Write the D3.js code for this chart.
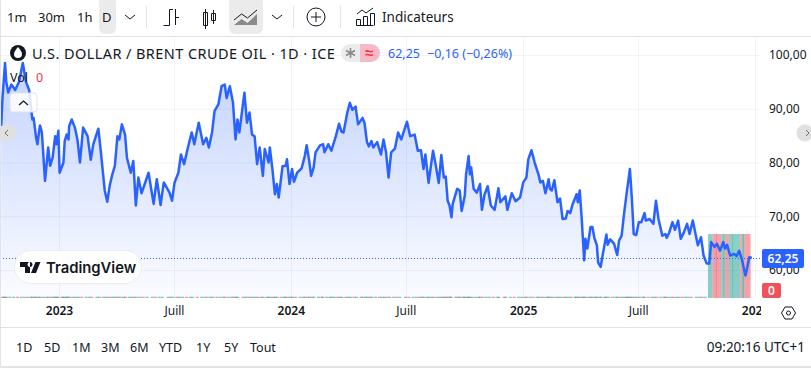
<!DOCTYPE html>
<html>
<head>
<meta charset="utf-8">
<script src="https://cdn.jsdelivr.net/npm/d3@7"></script>
<style>
  html, body { margin: 0; padding: 0; background: #fff; overflow: hidden; }
  svg { display: block; }
  text { font-family: "Noto Sans", sans-serif; fill: #131722; }
</style>
</head>
<body>
<div id="chart"></div>
<script>
// days since 2023-01-01 and the close
const days = [
  -91,-89,-85,-83,-80,-75,-69,-63,-57,-52,-47,-42,-40,-36,-34,-30,-27,-22,-17,-14,-10,-6,-4,-1,1,7,9,12,15,16,
  20,25,29,33,38,45,50,54,62,66,72,76,80,84,88,92,95,99,104,107,113,117,121,125,130,135,141,149,154,160,
  165,174,178,182,188,192,197,203,209,213,220,227,232,236,241,245,251,256,261,264,269,274,278,281,284,292,296,300,304,308,
  312,316,321,324,330,
  332,336,340,343,346,352,357,359,363,367,370,375,382,387,390,394,397,401,404,411,416,418,424,429,432,436,441,445,448,454,
  458,462,467,471,478,481,485,488,492,495,501,507,511,515,519,523,529,534,539,548,553,560,565,570,574,577,582,585,589,593,
  598,602,606,609,612,615,618,620,627,631,634,639,641,645,647,649,653,658,663,666,670,675,680,686,692,695,703,706,713,719,
  726,731,736,739,744,749,755,
  758,762,766,771,773,776,780,785,789,793,798,801,805,809,815,817,820,823,827,829,832,837,840,843,847,849,853,856,862,864,
  868,874,879,882,886,890,894,897,899,902,905,909,913,917,922,924,930,936,940,944,950,955,957,961,966,970,975,979,984,989,
  993,998,1006,1011,1015,1020,1024,1027,1032,1036,1041,1046,1049,1052,1057,1063,1067,1071,1075,1081,1084,1087,1091
];
const closes = [
  86.8,92,98.5,95,93,94.5,93.5,95,98.5,95,93.5,88,88.3,84.6,83.4,86.9,85.6,76.6,82.8,79.4,80.9,84.9,83.4,85.9,78.1,80,84,85.2,84.3,86.8,
  88,86.5,84.3,80,86.5,84.9,80.5,83.4,86.3,81.9,74.8,72.7,75.8,77.8,79.4,84.9,84.3,87.1,85.2,80.9,78.1,80.3,72,77.2,74.3,76,78.1,72.3,76.9,72.1,
  76.3,74.4,72.9,76.3,78.1,81.5,79.7,82.8,85.6,83.4,87.4,83.4,84.6,82.8,85.6,89.6,90.8,94.2,94.5,92,94.2,91.1,84.3,88,85.6,93,87.4,89.3,85.2,84.9,
  79.7,82.8,77.5,82.5,80,
  82.8,78.8,74.1,76,73.5,79.3,79.4,80.6,76,78.8,76.4,78.1,78.9,81.2,83.2,80.3,77.5,79.1,81.9,83.2,83.4,81.9,83.4,82.2,83.4,84.9,87.2,85.7,85.6,89.3,
  91.1,89.8,90.4,87.1,88.3,87.4,83.8,83,84,82.8,83.8,81.5,84.3,81.9,77.2,81.9,82.6,85.6,84.3,87.6,84.9,85.2,82.2,82.3,78.8,81.5,76.2,78.8,82.2,79.7,
  76.2,81.4,77.2,77.4,72.9,72,69.8,72.3,75.1,74.8,71,73.8,77.8,81.2,77.8,79.1,75.1,74.4,76,71.2,74,75.6,72,71.2,75.2,72.6,73.7,71.2,74.3,72.8,
  73.5,76.3,77.2,80.6,82.3,80,77.8,
  76.3,76.6,74.3,76.9,75.1,74.8,76.7,72.6,73.3,69.5,69.6,71,70.6,72.3,74.1,72.6,74.8,69.8,61.8,65.8,64,68,68,66,64.6,61.4,60.6,62.7,66.6,64.7,
  65.7,64.9,62.8,65.5,66.4,70.7,74.4,77,78.8,73.5,66.7,66.5,68.9,68.9,70.6,69.2,69.5,68.6,72.9,69.5,66.4,66.7,66,67,68.9,67.5,69.2,65.8,67,68.6,
  66.7,69.2,64.6,66.1,62.7,61.2,61.2,65.2,64.3,64.9,63.6,65.2,64,64.7,62.7,63,62.6,63.6,62.1,59,60.6,62.4,62.25
];

// recent volume blocks (start day, end day, direction)
const volStart = [1022,1029,1034,1036,1043,1046,1048,1049,1055,1060,1062,1073,1076,1079,1080];
const volEnd   = [1029,1034,1036,1043,1046,1048,1049,1055,1060,1062,1073,1076,1079,1080,1089];
const volDir   = ['up','down','down2','down','up','up2','up','down','up','up2','up','down','up2','down','down'];

const priceTicks = [60,70,80,90,100];
const timeTickDays = [0,181,365,546,731,912,1096];
const timeTickLabels = ['2023','Juill','2024','Juill','2025','Juill','2026'];
const rangeLabels = ['1D','5D','1M','3M','6M','YTD','1Y','5Y','Tout'];
const rangeLabelX = [16,44,72,101,130,159,196,224,250];
const intervalLabels = ['1m','30m','1h','D'];
const intervalLabelX = [7,38,77,102];

const W = 811, H = 368;
const paneTop = 37, paneBottom = 298, paneRight = 761;
const BLUE = '#2962ff', GRID = '#f0f3fa', BORDER = '#e0e3eb';
const day0 = new Date(Date.UTC(2023, 0, 1));
const toDate = d => d3.utcDay.offset(day0, d);
const fmtPrice = v => v.toFixed(2).replace('.', ',');

const svg = d3.select('#chart').append('svg').attr('width', W).attr('height', H);
const defs = svg.append('defs');

const x = d3.scaleUtc().domain([day0, toDate(1096)]).range([59, 755]);
const y = d3.scaleLinear().domain([54.8, 103.35]).range([paneBottom, paneTop]);
const vol = d3.scaleLinear().domain([0, 1]).range([paneBottom, 234]);

defs.append('clipPath').attr('id', 'pane').append('rect')
  .attr('x', 1).attr('y', paneTop).attr('width', paneRight - 1).attr('height', paneBottom - paneTop);
defs.append('clipPath').attr('id', 'timeClip').append('rect')
  .attr('x', 0).attr('y', paneBottom).attr('width', paneRight).attr('height', 30);
const grad = defs.append('linearGradient').attr('id', 'areaFill')
  .attr('gradientUnits', 'userSpaceOnUse').attr('x1', 0).attr('x2', 0).attr('y1', 60).attr('y2', paneBottom);
grad.append('stop').attr('offset', 0).attr('stop-color', BLUE).attr('stop-opacity', 0.28);
grad.append('stop').attr('offset', 1).attr('stop-color', BLUE).attr('stop-opacity', 0.02);

// grid
const grid = svg.append('g');
grid.selectAll('.h').data(priceTicks).join('line')
  .attr('x1', 0).attr('x2', paneRight).attr('y1', d => y(d) + 0.5).attr('y2', d => y(d) + 0.5)
  .attr('stroke', GRID);
grid.selectAll('.v').data(timeTickDays).join('line')
  .attr('x1', d => Math.round(x(toDate(d))) + 0.5).attr('x2', d => Math.round(x(toDate(d))) + 0.5)
  .attr('y1', paneTop).attr('y2', paneBottom).attr('stroke', GRID);

// series
const rows = d3.zip(days, closes);
const pane = svg.append('g').attr('clip-path', 'url(#pane)');
const colUp = 'rgba(8,153,129,0.5)', colDown = 'rgba(242,54,69,0.5)';

pane.append('path').datum(rows)
  .attr('fill', 'url(#areaFill)')
  .attr('d', d3.area().x(r => x(toDate(r[0]))).y0(paneBottom).y1(r => y(r[1])));

// near-zero volume strip under the history
pane.selectAll('.volStrip').data(rows.slice(1).filter(r => r[0] < volStart[0])).join('rect')
  .attr('x', r => x(toDate(r[0])) - 3).attr('width', 3)
  .attr('y', vol(0.02)).attr('height', vol(0) - vol(0.02))
  .attr('fill', (r, i) => i % 3 ? colUp : colDown);

// volume blocks
pane.selectAll('.vol').data(d3.zip(volStart, volEnd, volDir)).join('rect')
  .attr('x', r => x(toDate(r[0]))).attr('width', r => x(toDate(r[1])) - x(toDate(r[0])))
  .attr('y', vol(1)).attr('height', vol(0) - vol(1))
  .attr('fill', r => r[2].startsWith('up') ? colUp : colDown)
  .attr('fill-opacity', r => r[2].endsWith('2') ? 1 : 0.92);
pane.selectAll('.volDark').data(d3.zip(volStart, volEnd, volDir).filter(r => r[2].endsWith('2'))).join('rect')
  .attr('x', r => x(toDate(r[0]))).attr('width', r => x(toDate(r[1])) - x(toDate(r[0])))
  .attr('y', vol(1)).attr('height', vol(0) - vol(1))
  .attr('fill', r => r[2].startsWith('up') ? 'rgba(8,153,129,0.2)' : 'rgba(242,54,69,0.2)');

pane.append('path').datum(rows)
  .attr('fill', 'none').attr('stroke', BLUE).attr('stroke-width', 2.5).attr('stroke-linejoin', 'round')
  .attr('d', d3.line().x(r => x(toDate(r[0]))).y(r => y(r[1])));

// last price line
const lastClose = closes[closes.length - 1];
svg.append('line').attr('x1', 0).attr('x2', paneRight)
  .attr('y1', Math.round(y(lastClose)) + 0.5).attr('y2', Math.round(y(lastClose)) + 0.5)
  .attr('stroke', BLUE).attr('stroke-width', 1).attr('stroke-dasharray', '1 2');

// price axis
const yAxis = svg.append('g').attr('transform', `translate(${paneRight},0)`)
  .call(d3.axisRight(y).tickValues(priceTicks).tickFormat(fmtPrice).tickSize(0).tickPadding(8));
yAxis.select('.domain').remove();
yAxis.selectAll('text').attr('font-size', 12).style('font-family', '"Noto Sans", sans-serif').attr('fill', '#131722');

// time axis
const timeAxis = svg.append('g').attr('clip-path', 'url(#timeClip)').append('g')
  .attr('transform', `translate(0,${paneBottom})`)
  .call(d3.axisBottom(x).tickValues(timeTickDays.map(toDate))
    .tickFormat((d, i) => timeTickLabels[i]).tickSize(0).tickPadding(8));
timeAxis.select('.domain').remove();
timeAxis.selectAll('text').attr('font-size', 12).style('font-family', '"Noto Sans", sans-serif')
  .attr('fill', '#131722').attr('font-weight', (d, i) => i % 2 ? 400 : 600);

// frame lines
const frame = [[0, 36.5, W, 36.5], [0, 327.5, W, 327.5], [0.5, 0, 0.5, 366]];
svg.selectAll('.frame').data(frame).join('line')
  .attr('x1', d => d[0]).attr('y1', d => d[1]).attr('x2', d => d[2]).attr('y2', d => d[3])
  .attr('stroke', BORDER);
svg.append('rect').attr('x', 0).attr('y', 366).attr('width', W).attr('height', 2).attr('fill', '#e4e4e4');

// toolbar
const bar = svg.append('g');
bar.append('rect').attr('x', 99).attr('y', -4).attr('width', 17).attr('height', 38).attr('rx', 6).attr('fill', '#ebebeb');
bar.append('rect').attr('x', 229).attr('y', -4).attr('width', 34).attr('height', 38).attr('rx', 6).attr('fill', '#ebebeb');
bar.selectAll('.iv').data(d3.zip(intervalLabels, intervalLabelX)).join('text')
  .attr('x', d => d[1]).attr('y', 22).attr('font-size', 13).text(d => d[0]);
[146.5, 340.5, 293.5].forEach(px => bar.append('line').attr('x1', px).attr('x2', px).attr('y1', 6).attr('y2', 28).attr('stroke', BORDER));
const ink = { fill: 'none', stroke: '#131722', 'stroke-width': 1 };
const icon = d => { const p = bar.append('path').attr('d', d); Object.entries(ink).forEach(([k, v]) => p.attr(k, v)); return p; };
icon('M125 15l5 4 5-4');
icon('M272 15l5 4 5-4');
icon('M163.500 25.500h6M169.500 25.500v-16M169.500 9.500h3.500M175.500 9v16M175.500 17.500h3.500');
icon('M205.500 9v20M203.500 12.500h4v13h-4zM213.500 10v14M211.500 13.500h4v7h-4z');
bar.append('path').attr('d', 'M234 25l7.500-6 6 4 9.500-9v11z').attr('fill', '#8a8a8a');
icon('M234 20l7.500-6 6 4 9.500-8');
bar.append('circle').attr('cx', 316).attr('cy', 17).attr('r', 9).attr('fill', 'none').attr('stroke', '#131722');
icon('M311 17h10M316 12v10');
icon('M356.500 25.500h17M356.500 25.500v-6h4v6M363.500 25.500v-9h4v9M370.500 25.500v-12h4v12M357 14l5-4 4 3 7-5');
bar.append('text').attr('x', 382).attr('y', 22).attr('font-size', 13.5).text('Indicateurs');

// legend
const leg = svg.append('g');
leg.append('circle').attr('cx', 18).attr('cy', 53).attr('r', 8).attr('fill', '#131722');
leg.append('path').attr('d', 'M18 47c2.500 3 4 5 4 7a4 4 0 0 1-8 0c0-2 1.500-4 4-7z').attr('fill', '#fff');
leg.append('text').attr('x', 32).attr('y', 58.500).attr('font-size', 14.500).attr('letter-spacing', 0.42)
  .text('U.S. DOLLAR / BRENT CRUDE OIL · 1D · ICE');
leg.append('path').attr('d', 'M360 44h-10a9 9 0 0 0 0 18h10z').attr('fill', '#ebebeb');
leg.append('path').attr('d', 'M360 44h11a9 9 0 0 1 0 18h-11z').attr('fill', '#f7b9c6');
leg.append('path').attr('d', 'M350.500 48v10M346 50.500l9 5M346 55.500l9-5').attr('fill', 'none').attr('stroke', '#8a8a8a').attr('stroke-width', 1.600);
leg.append('text').attr('x', 369).attr('y', 58).attr('text-anchor', 'middle').attr('font-size', 15)
  .style('fill', '#f23645').attr('font-weight', 700).text('≈');
leg.append('text').attr('x', 388).attr('y', 58).attr('font-size', 12.500).style('fill', BLUE).text('62,25');
leg.append('text').attr('x', 427).attr('y', 58).attr('font-size', 12.500).style('fill', BLUE).text('−0,16 (−0,26%)');
leg.append('text').attr('x', 10).attr('y', 82).attr('font-size', 12.500).text('Vol');
leg.append('text').attr('x', 36).attr('y', 82).attr('font-size', 12.500).style('fill', '#f23645').text('0');
leg.append('rect').attr('x', 10).attr('y', 93).attr('width', 27).attr('height', 19).attr('rx', 3)
  .attr('fill', 'rgba(255,255,255,0.85)').attr('stroke', BORDER);
leg.append('path').attr('d', 'M19 105l4.500-4 4.500 4').attr('fill', 'none').attr('stroke', '#131722').attr('stroke-width', 1.300);

// side scroll buttons
const side = svg.append('g');
side.append('circle').attr('cx', 7).attr('cy', 133).attr('r', 9).attr('fill', '#e0e0e0');
side.append('path').attr('d', 'M8 130l-3 3 3 3').attr('fill', 'none').attr('stroke', '#6a6d78');
side.append('circle').attr('cx', 805).attr('cy', 133).attr('r', 8.500).attr('fill', '#e0e0e0');
side.append('path').attr('d', 'M806 130l3 3-3 3').attr('fill', 'none').attr('stroke', '#6a6d78');

// TradingView badge
const logo = svg.append('g');
logo.append('rect').attr('x', 14.500).attr('y', 250.500).attr('width', 127).attr('height', 33).attr('rx', 16.500)
  .attr('fill', '#fff').attr('stroke', '#ececec');
logo.append('path').attr('d', 'M20 262h10v11h-5v-6h-5zM36 273l4.500-11h-5l-4.500 11zM30 262a2.500 2.500 0 1 0 .01 0z').attr('fill', '#131722');
logo.append('text').attr('x', 46).attr('y', 273).attr('font-size', 14.800).attr('font-weight', 600)
  .style('font-family', 'Inter, sans-serif').text('TradingView');

// axis price badges
const tag = svg.append('g');
tag.append('rect').attr('x', 762).attr('y', y(lastClose) - 9).attr('width', 42).attr('height', 19).attr('rx', 2).attr('fill', BLUE);
tag.append('text').attr('x', 783).attr('y', y(lastClose) + 5).attr('text-anchor', 'middle').attr('font-size', 12)
  .attr('font-weight', 600).style('fill', '#fff').text(fmtPrice(lastClose));
tag.append('rect').attr('x', 762).attr('y', 283).attr('width', 19).attr('height', 15).attr('rx', 2).attr('fill', '#f0525a');
tag.append('text').attr('x', 771.500).attr('y', 295).attr('text-anchor', 'middle').attr('font-size', 12)
  .attr('font-weight', 600).style('fill', '#fff').text('0');

// settings hexagon
svg.append('path').attr('d', 'M781.500 313l3.500-6h7l3.500 6-3.500 6h-7z').attr('fill', 'none').attr('stroke', '#131722');
svg.append('circle').attr('cx', 788.500).attr('cy', 313).attr('r', 2).attr('fill', 'none').attr('stroke', '#131722');

// bottom bar
svg.selectAll('.rng').data(d3.zip(rangeLabels, rangeLabelX)).join('text')
  .attr('x', d => d[1]).attr('y', 352).attr('font-size', 12.500).text(d => d[0]);
svg.append('text').attr('x', 805).attr('y', 352).attr('text-anchor', 'end').attr('font-size', 13.500).text('09:20:16 UTC+1');
</script>
</body>
</html>
